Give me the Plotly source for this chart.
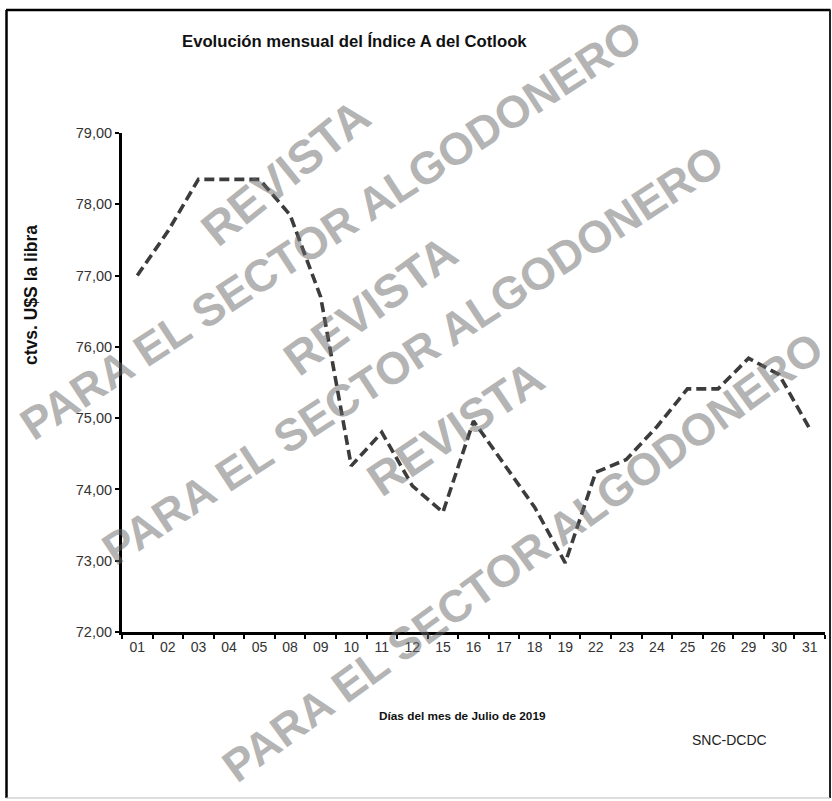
import plotly.graph_objects as go

# ---- data ----
dias = ["01", "02", "03", "04", "05", "08", "09", "10", "11", "12", "15", "16",
        "17", "18", "19", "22", "23", "24", "25", "26", "29", "30", "31"]
indice_a = [77.00, 77.62, 78.35, 78.35, 78.35, 77.85, 76.70, 74.33, 74.80, 74.05,
            73.68, 74.96, 74.36, 73.75, 72.97, 74.24, 74.42, 74.88, 75.41, 75.41,
            75.84, 75.61, 74.85]
y_ticks = [72, 73, 74, 75, 76, 77, 78, 79]

titulo = "Evolución mensual del Índice A del Cotlook"
titulo_x = "Días del mes de Julio de 2019"
titulo_y = "ctvs. U$S la libra"
fuente = "SNC-DCDC"
marca_1 = "REVISTA"
marca_2 = "PARA EL SECTOR ALGODONERO"

W, H = 832, 801
L, R, T, B = 122, 825, 133, 632  # plot area in pixels


def px(x):
    return (x - L) / (R - L)


def py(y):
    return (B - y) / (B - T)


FONT = "Liberation Sans, Arial, sans-serif"

fig = go.Figure()
fig.add_trace(go.Scatter(
    x=dias, y=indice_a, mode="lines",
    line=dict(color="#3c3c3c", width=3.6, dash="10px,5px"),
    hoverinfo="x+y", showlegend=False,
))

annotations = []
# watermark
wm_color = "rgba(105,105,105,0.5)"
for text, cx, cy, ang, size in [
    (marca_1, 285, 172, -39, 47),
    (marca_2, 330, 230, -33, 45),
    (marca_1, 370, 305, -36, 47),
    (marca_2, 412, 355, -33, 45),
    (marca_1, 455, 428, -34, 47),
    (marca_2, 522, 557, -36, 45),
]:
    annotations.append(dict(
        text=f"<b>{text}</b>", x=px(cx), y=py(cy), xref="paper", yref="paper",
        xanchor="center", yanchor="middle", showarrow=False, textangle=ang,
        font=dict(family=FONT, size=size, color=wm_color),
    ))

annotations += [
    dict(text=f"<b>{titulo}</b>", x=px(354), y=py(42), xref="paper", yref="paper",
         xanchor="center", yanchor="middle", showarrow=False,
         font=dict(family=FONT, size=16.7, color="#111111")),
    dict(text=f"<b>{titulo_x}</b>", x=px(462), y=py(716), xref="paper", yref="paper",
         xanchor="center", yanchor="middle", showarrow=False,
         font=dict(family=FONT, size=11.8, color="#111111")),
    dict(text=f"<b>{titulo_y}</b>", x=px(31), y=py(295), xref="paper", yref="paper",
         xanchor="center", yanchor="middle", showarrow=False, textangle=-90,
         font=dict(family=FONT, size=17.5, color="#111111")),
    dict(text=fuente, x=px(729), y=py(740), xref="paper", yref="paper",
         xanchor="center", yanchor="middle", showarrow=False,
         font=dict(family=FONT, size=14, color="#222222")),
]

shapes = [
    dict(type="line", xref="paper", yref="paper", x0=px(6.5), x1=px(6.5), y0=py(10), y1=py(798),
         line=dict(color="#000000", width=2.5)),
    dict(type="line", xref="paper", yref="paper", x0=px(6), x1=px(830.5), y0=py(10), y1=py(10),
         line=dict(color="#000000", width=2.5)),
    dict(type="line", xref="paper", yref="paper", x0=px(830), x1=px(830), y0=py(10), y1=py(798),
         line=dict(color="#222222", width=2)),
    dict(type="line", xref="paper", yref="paper", x0=px(6), x1=px(830), y0=py(798), y1=py(798),
         line=dict(color="#bbbbbb", width=1)),
]

fig.update_layout(
    width=W, height=H, autosize=False,
    margin=dict(l=L, r=W - R, t=T, b=H - B, pad=0),
    paper_bgcolor="white", plot_bgcolor="white",
    separators=",.",
    font=dict(family=FONT, color="#333333"),
    annotations=annotations, shapes=shapes,
    showlegend=False,
)
fig.update_xaxes(
    type="category", range=[-0.5, len(dias) - 0.5],
    showline=True, linecolor="#000000", linewidth=3,
    ticks="outside", tickson="boundaries", ticklen=4, tickwidth=2, tickcolor="#000000",
    showgrid=False, zeroline=False, tickfont=dict(size=14, color="#333333"),
)
fig.update_yaxes(
    range=[72, 79], tickvals=y_ticks, tickformat=".2f",
    showline=True, linecolor="#000000", linewidth=3,
    ticks="outside", ticklen=4, tickwidth=2, tickcolor="#000000",
    showgrid=False, zeroline=False, tickfont=dict(size=14.5, color="#333333"),
)

fig.write_html(
    "out.html",
    config={"displayModeBar": False},
    post_script="document.body.style.margin='0';document.body.style.overflow='hidden';",
)
